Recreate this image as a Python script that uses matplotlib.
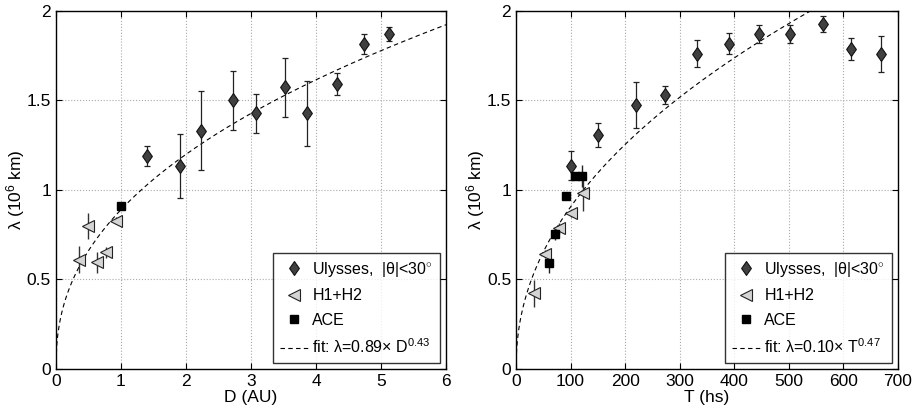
import numpy as np
import matplotlib
matplotlib.use('Agg')
import matplotlib.pyplot as plt
from matplotlib.path import Path

plt.rcParams['font.family'] = ['Liberation Sans', 'DejaVu Sans']
plt.rcParams['mathtext.fontset'] = 'custom'
plt.rcParams['mathtext.rm'] = 'Liberation Sans'
plt.rcParams['mathtext.it'] = 'Liberation Sans'

# ---- left panel: lambda vs heliocentric distance ----
uly_D = [1.40, 1.91, 2.23, 2.72, 3.08, 3.52, 3.86, 4.32, 4.74, 5.12]
uly_D_lam = [1.19, 1.134, 1.331, 1.501, 1.428, 1.575, 1.428, 1.59, 1.816, 1.873]
uly_D_err = [0.055, 0.18, 0.22, 0.165, 0.11, 0.165, 0.18, 0.062, 0.055, 0.04]
h12_D = [0.36, 0.49, 0.63, 0.77, 0.93]
h12_D_lam = [0.611, 0.799, 0.596, 0.652, 0.829]
h12_D_err = [0.077, 0.075, 0.06, 0.03, 0.02]
ace_D = [1.0]
ace_D_lam = [0.91]
fitD_a, fitD_b = 0.89, 0.43

# ---- right panel: lambda vs time ----
uly_T = [101.4, 150.3, 219.3, 272.4, 332.3, 389.7, 445.3, 502, 562, 614.5, 668.3]
uly_T_lam = [1.136, 1.307, 1.475, 1.533, 1.76, 1.818, 1.873, 1.873, 1.927, 1.788, 1.76]
uly_T_err = [0.08, 0.065, 0.13, 0.05, 0.075, 0.06, 0.05, 0.05, 0.047, 0.06, 0.1]
h12_T = [33, 53.8, 78.2, 101.4, 123.4]
h12_T_lam = [0.423, 0.642, 0.786, 0.87, 0.981]
h12_T_err = [0.075, 0.02, 0.03, 0.02, 0.1]
ace_T = [60.5, 72, 91.6, 107.5, 121.6]
ace_T_lam = [0.592, 0.752, 0.966, 1.078, 1.078]
ace_T_err = [0.055, 0.03, 0.02, 0.02, 0.06]
fitT_a, fitT_b = 0.104, 0.47

diamond = Path([(0, 1), (0.7, 0), (0, -1), (-0.7, 0), (0, 1)],
               [Path.MOVETO, Path.LINETO, Path.LINETO, Path.LINETO, Path.CLOSEPOLY])

fig = plt.figure(figsize=(9.13, 4.12), dpi=100)
ax1 = fig.add_axes([0.0613, 0.1044, 0.4272, 0.869])
ax2 = fig.add_axes([0.5652, 0.1044, 0.4184, 0.869])


def panel(ax, ux, uy, ue, hx, hy, he, ax_, ay, ae, fit_a, fit_b, xmax, fitlabel, xlabel, xticks, ylab_x):
    xs = np.linspace(0, xmax, 600)
    ax.plot(xs, fit_a * xs ** fit_b, '--', color='k', lw=0.8, dashes=(4, 3), zorder=2)
    ax.errorbar(hx, hy, yerr=he, fmt='none', ecolor='#333333', elinewidth=1.0, capsize=0, zorder=3)
    if ae is not None:
        ax.errorbar(ax_, ay, yerr=ae, fmt='none', ecolor='#222222', elinewidth=1.0, capsize=0, zorder=3)
    ax.errorbar(ux, uy, yerr=ue, fmt='none', ecolor='#222222', elinewidth=0.9, capsize=2.5, capthick=0.9, zorder=3)
    h1, = ax.plot(ux, uy, linestyle='none', marker=diamond, ms=10, mfc='#404040', mec='#111111', mew=0.8, zorder=4)
    h2, = ax.plot(hx, hy, linestyle='none', marker='<', ms=8.5, mfc='#d4d4d4', mec='#222222', mew=0.8, zorder=4)
    h3, = ax.plot(ax_, ay, linestyle='none', marker='s', ms=6, mfc='k', mec='k', zorder=5)
    h4, = ax.plot([], [], '--', color='k', lw=0.8, dashes=(4, 3))
    leg = ax.legend([h1, h2, h3, h4],
                    ['Ulysses,  |θ|<30$^{\\circ}$', 'H1+H2', 'ACE', fitlabel],
                    loc='lower right', fontsize=11.5, frameon=True, fancybox=False,
                    borderaxespad=0.35, handlelength=1.7, handletextpad=0.3,
                    labelspacing=0.6, borderpad=0.45)
    leg.get_frame().set_edgecolor('k')
    leg.get_frame().set_linewidth(1.0)
    ax.set_xlim(0, xmax)
    ax.set_ylim(0, 2)
    ax.set_xticks(xticks)
    ax.set_yticks([0, 0.5, 1, 1.5, 2])
    ax.set_yticklabels(['0', '0.5', '1', '1.5', '2'])
    ax.grid(True, linestyle=':', color='#aaaaaa', lw=0.8)
    ax.tick_params(direction='in', top=True, right=True, length=4, labelsize=12.5, width=0.8)
    for s in ax.spines.values():
        s.set_linewidth(1.0)
    ax.set_xlabel(xlabel, fontsize=12.5, labelpad=1)
    ax.set_ylabel('λ (10$^6$ km)', fontsize=12.5)
    ax.yaxis.set_label_coords(ylab_x, 0.5)


panel(ax1, uly_D, uly_D_lam, uly_D_err, h12_D, h12_D_lam, h12_D_err, ace_D, ace_D_lam, None,
      fitD_a, fitD_b, 6, 'fit: λ=0.89× D$^{0.43}$', 'D (AU)', [0, 1, 2, 3, 4, 5, 6], -0.074)
panel(ax2, uly_T, uly_T_lam, uly_T_err, h12_T, h12_T_lam, h12_T_err, ace_T, ace_T_lam, ace_T_err,
      fitT_a, fitT_b, 700, 'fit: λ=0.10× T$^{0.47}$', 'T (hs)', [0, 100, 200, 300, 400, 500, 600, 700], -0.076)

fig.savefig('out.png', dpi=100)
